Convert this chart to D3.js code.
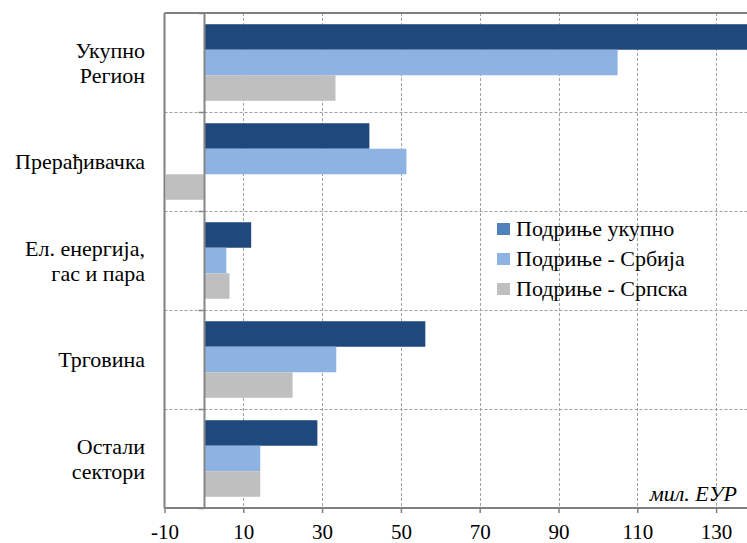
<!DOCTYPE html>
<html><head><meta charset="utf-8">
<script src="https://cdn.jsdelivr.net/npm/d3@7/dist/d3.min.js"></script>
<style>body{margin:0;background:#fff}svg{display:block}</style>
</head><body>
<svg id="c" width="747" height="543"></svg>
<script>
const categories = [["Укупно","Регион"],["Прерађивачка"],["Ел. енергија,","гас и пара"],["Трговина"],["Остали","сектори"]];
const seriesNames = ["Подриње укупно","Подриње - Србија","Подриње - Српска"];
const totalVals  = [145, 42, 12, 56.2, 28.8];
const serbiaVals = [105, 51.4, 5.7, 33.6, 14.3];
const srpskaVals = [33.4, -9.7, 6.5, 22.5, 14.3];
const tickVals = [-10, 10, 30, 50, 70, 90, 110, 130];
const barColors = ["#1F497D", "#8DB3E2", "#BFBFBF"];
const legendColors = ["#4F81BD", "#8DB3E2", "#BFBFBF"];

(function(){
const series = [totalVals, serbiaVals, srpskaVals];
const svg = d3.select("#c");
const FF = '"Liberation Serif"';
const FS = "22px";
const pLeft = 164.5, pTop = 13, pBottom = 508;
const x = d3.scaleLinear().domain([-10, 140]).range([pLeft, pLeft + 150 * 3.94]);
const catIdx = d3.range(categories.length);
const y = d3.scaleBand().domain(catIdx).range([pTop, pBottom]);
const ys = d3.scaleBand().domain([0,1,2]).range([0, y.bandwidth()]).paddingOuter(0.44).paddingInner(0);

const g = svg.append("g");
g.selectAll("line.vg").data(tickVals.filter(t => t > -10)).join("line").attr("class", "vg")
  .attr("x1", d => Math.round(x(d)) + 0.5).attr("x2", d => Math.round(x(d)) + 0.5)
  .attr("y1", pTop).attr("y2", pBottom)
  .attr("stroke", "#a0a0a0").attr("stroke-dasharray", "3,2").attr("stroke-width", 1);
g.selectAll("line.hg").data(catIdx.slice(1)).join("line").attr("class", "hg")
  .attr("x1", pLeft).attr("x2", 747)
  .attr("y1", d => Math.round(y(d)) + 0.5).attr("y2", d => Math.round(y(d)) + 0.5)
  .attr("stroke", "#a0a0a0").attr("stroke-dasharray", "3,2").attr("stroke-width", 1);

series.forEach((vals, si) => {
  g.selectAll("rect.s" + si).data(vals).join("rect").attr("class", "s" + si)
    .attr("x", d => x(Math.min(0, d)))
    .attr("width", d => Math.abs(x(d) - x(0)))
    .attr("y", (d, i) => y(i) + ys(si))
    .attr("height", ys.bandwidth())
    .attr("fill", barColors[si]);
});

const x0 = Math.round(x(0)) + 0.5;
g.append("line").attr("x1", x0).attr("x2", x0).attr("y1", pTop).attr("y2", pBottom)
  .attr("stroke", "#868686").attr("stroke-width", 2);
g.selectAll("line.ct").data(d3.range(categories.length + 1)).join("line").attr("class", "ct")
  .attr("x1", x0 - 6).attr("x2", x0)
  .attr("y1", d => Math.round(pTop + d * y.step()) + 0.5).attr("y2", d => Math.round(pTop + d * y.step()) + 0.5)
  .attr("stroke", "#868686").attr("stroke-width", 1.5);

g.append("line").attr("x1", pLeft).attr("x2", 747).attr("y1", pTop).attr("y2", pTop).attr("stroke", "#808080").attr("stroke-width", 2);
g.append("line").attr("x1", pLeft).attr("x2", pLeft).attr("y1", pTop).attr("y2", pBottom).attr("stroke", "#808080").attr("stroke-width", 2);

const xa = svg.append("g").attr("transform", `translate(0,${pBottom})`)
  .call(d3.axisBottom(x).tickValues(tickVals).tickSize(5).tickPadding(10).tickFormat(d => String(d)));
xa.select(".domain").attr("stroke", "#808080").attr("stroke-width", 2).attr("d", `M${pLeft},0H747`);
xa.selectAll(".tick line").attr("stroke", "#808080").attr("stroke-width", 1.5);
xa.selectAll(".tick text").style("font-family", FF).style("font-size", "21px").attr("fill", "#000")
  .attr("dy", null).attr("y", 31);

categories.forEach((lines, i) => {
  const cy = y(i) + y.bandwidth() / 2;
  const n = lines.length;
  const t = svg.append("text").attr("text-anchor", "end").style("font-family", FF).style("font-size", FS).attr("fill", "#000");
  lines.forEach((ln, k) => {
    t.append("tspan").attr("x", 145).attr("y", cy + (k - (n - 1) / 2) * 25 + 7.5).text(ln);
  });
});

svg.append("text").attr("x", 737).attr("y", 501).attr("text-anchor", "end")
  .style("font-family", FF).style("font-style", "italic").style("font-size", FS).text("мил. ЕУР");

const lg = svg.append("g");
seriesNames.forEach((nm, i) => {
  const base = 236 + i * 30;
  lg.append("rect").attr("x", 497).attr("y", base - 13).attr("width", 13).attr("height", 12).attr("fill", legendColors[i]);
  lg.append("text").attr("x", 516).attr("y", base).style("font-family", FF).style("font-size", FS).text(nm);
});
})();
</script>
</body></html>
